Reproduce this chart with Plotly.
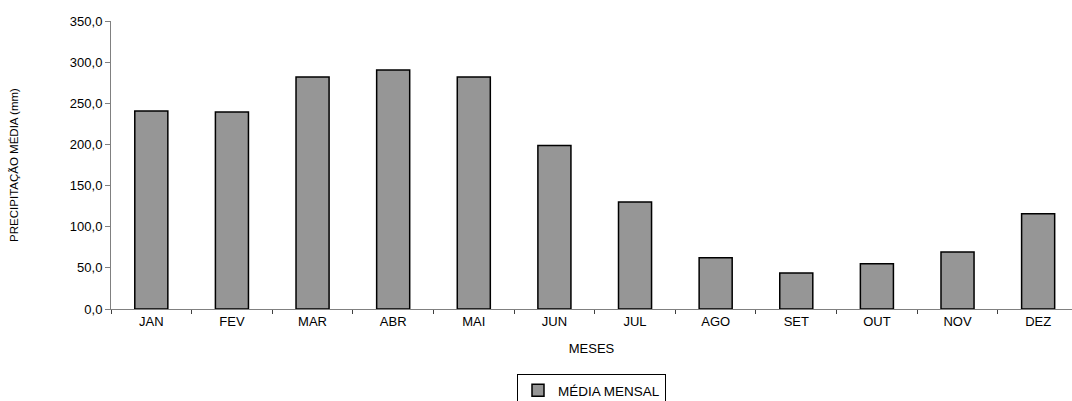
import plotly.graph_objects as go

meses = ["JAN", "FEV", "MAR", "ABR", "MAI", "JUN", "JUL", "AGO", "SET", "OUT", "NOV", "DEZ"]
media_mensal = [240.6, 239.4, 281.8, 290.3, 281.8, 198.6, 130.0, 62.2, 43.6, 54.9, 69.4, 115.9]
y_ticks = [0, 50, 100, 150, 200, 250, 300, 350]

font_family = "Liberation Sans, Arial, sans-serif"

fig = go.Figure()
fig.add_trace(go.Bar(
    x=meses,
    y=media_mensal,
    name="MÉDIA MENSAL",
    marker=dict(color="#969696", line=dict(color="#000000", width=1.5)),
))

fig.update_layout(
    width=1072,
    height=401,
    margin=dict(l=111, r=0, t=21, b=92),
    paper_bgcolor="white",
    plot_bgcolor="white",
    bargap=0.59,
    separators=",.",
    font=dict(family=font_family, size=12, color="#000000"),
    showlegend=True,
    legend=dict(
        orientation="h",
        xref="paper", x=0.5, xanchor="center",
        yref="container", y=1 - 374 / 401, yanchor="top",
        bordercolor="#000000", borderwidth=1,
        font=dict(size=13.5, family=font_family),
        itemwidth=30,
    ),
    xaxis=dict(
        type="category",
        range=[-0.5, 11.42],
        tickson="boundaries",
        ticks="outside",
        ticklen=4,
        tickcolor="#404040",
        showline=True,
        linecolor="#808080",
        linewidth=1,
        showgrid=False,
        tickfont=dict(size=13, family=font_family),
        title=dict(text="MESES", font=dict(size=13, family=font_family), standoff=16),
    ),
    yaxis=dict(
        range=[0, 350],
        tickvals=y_ticks,
        tickformat=".1f",
        ticks="outside",
        ticklen=5,
        tickcolor="#808080",
        showline=True,
        linecolor="#808080",
        linewidth=1,
        showgrid=False,
        zeroline=False,
        tickfont=dict(size=13, family=font_family),
        title=dict(text="PRECIPITAÇÃO MÉDIA (mm)", font=dict(size=11.5, family=font_family), standoff=48),
    ),
)

fig.write_html("out.html")
